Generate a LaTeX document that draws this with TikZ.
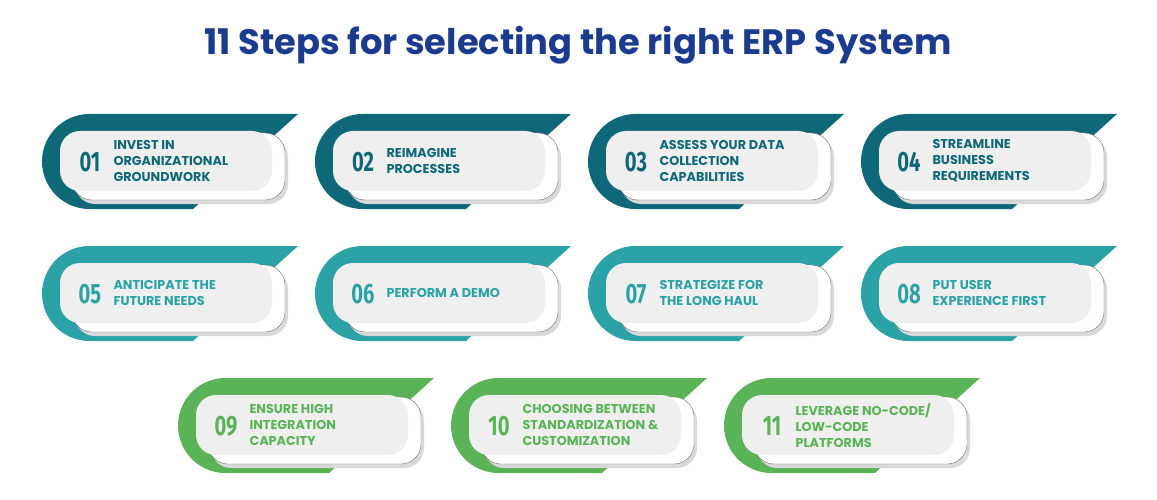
\documentclass[tikz,border=0pt]{standalone}
\usepackage{fontspec}
\setmainfont{Poppins}
\newfontfamily\numfont[FakeStretch=0.72]{Fira Sans}
\definecolor{cA}{HTML}{0F6878}
\definecolor{cB}{HTML}{2BA3A6}
\definecolor{cC}{HTML}{5AB356}
\definecolor{ttl}{HTML}{1B3C8E}
\definecolor{card}{HTML}{EFEFEF}
\tikzset{
 x=1pt,y=-1pt,
 numtxt/.style={font=\numfont\bfseries\fontsize{28}{28}\selectfont, anchor=center},
 steptxt/.style={font=\bfseries\fontsize{12.8}{16}\selectfont, anchor=west, align=left},
}
\newcommand{\stepcard}[6]{% x y color num text name
 \begin{scope}[shift={(#1,#2)}]
 \fill[#3] (47.5,47.5) circle[radius=47.5];
 \fill[#3] (47.5,0) -- (256,0) -- (151,95) -- (47.5,95) -- cycle;
 \fill[black!15, rounded corners=20] (33,23) rectangle (246,90);
 \draw[black!55,fill=white, rounded corners=20] (30,19) rectangle (243,86);
 \fill[card, rounded corners=20] (18,17) rectangle (230,77);
 \node[numtxt,text=#3] (n#6) at (48,48) {#4};
 \node[steptxt,text=#3] (t#6) at (68,47) {#5};
 \end{scope}
}
\begin{document}
\begin{tikzpicture}
\useasboundingbox (0,0) rectangle (1157,500);
\node[font=\bfseries\fontsize{35.3}{38}\selectfont,text=ttl] (title) at (578,45) {11 Steps for selecting the right ERP System};
\stepcard{42}{114}{cA}{01}{INVEST IN\\ORGANIZATIONAL\\GROUNDWORK}{1}
\stepcard{315}{114}{cA}{02}{REIMAGINE\\PROCESSES}{2}
\stepcard{588}{114}{cA}{03}{ASSESS YOUR DATA\\COLLECTION\\CAPABILITIES}{3}
\stepcard{861}{114}{cA}{04}{STREAMLINE\\BUSINESS\\REQUIREMENTS}{4}
\stepcard{42}{246}{cB}{05}{ANTICIPATE THE\\FUTURE NEEDS}{5}
\stepcard{315}{246}{cB}{06}{PERFORM A DEMO}{6}
\stepcard{588}{246}{cB}{07}{STRATEGIZE FOR\\THE LONG HAUL}{7}
\stepcard{861}{246}{cB}{08}{PUT USER\\EXPERIENCE FIRST}{8}
\stepcard{178}{378}{cC}{09}{ENSURE HIGH\\INTEGRATION\\CAPACITY}{9}
\stepcard{451}{378}{cC}{10}{CHOOSING BETWEEN\\STANDARDIZATION \&\\CUSTOMIZATION}{10}
\stepcard{724}{378}{cC}{11}{LEVERAGE NO-CODE/\\LOW-CODE\\PLATFORMS}{11}
\end{tikzpicture}
\end{document}
